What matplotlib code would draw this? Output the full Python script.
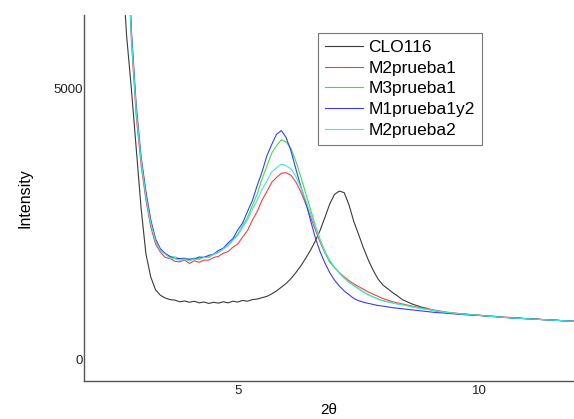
import matplotlib
matplotlib.use("Agg")
import matplotlib.pyplot as plt
import numpy as np

# 2theta grid (deg), 0.1 step
two_theta = np.round(np.arange(2.6, 12.0001, 0.1), 2)

clo116 = [
    7500, 6000, 5000, 3900, 2800, 1950, 1520, 1280, 1180, 1130,
    1100, 1090, 1060, 1075, 1050, 1070, 1040, 1055, 1030, 1050,
    1035, 1060, 1040, 1070, 1055, 1085, 1070, 1100, 1110, 1135,
    1160, 1205, 1260, 1330, 1400, 1490, 1600, 1720, 1860, 2010,
    2180, 2380, 2620, 2870, 3050, 3110, 3080, 2850, 2540, 2300,
    2050, 1830, 1640, 1480, 1370, 1300, 1230, 1170, 1100, 1060,
    1020, 990, 960, 940, 910, 890, 870, 860, 850, 840,
    830, 830, 820, 810, 810, 800, 790, 790, 780, 770,
    770, 760, 760, 750, 750, 740, 740, 730, 730, 720,
    720, 710, 710, 700, 700,
]

m2prueba1 = [
    12000, 8000, 5900, 4500, 3600, 2950, 2450, 2130, 1980, 1880,
    1860, 1810, 1800, 1830, 1770, 1820, 1790, 1830, 1830, 1880,
    1900, 1960, 1990, 2070, 2130, 2260, 2380, 2570, 2730, 2940,
    3100, 3270, 3360, 3440, 3450, 3400, 3280, 3100, 2880, 2640,
    2400, 2170, 1970, 1810, 1690, 1600, 1520, 1450, 1390, 1340,
    1290, 1240, 1200, 1160, 1120, 1090, 1060, 1040, 1020, 1000,
    980, 960, 945, 930, 915, 900, 885, 870, 860, 850,
    840, 835, 825, 815, 810, 800, 795, 790, 780, 775,
    770, 760, 760, 750, 745, 740, 735, 730, 725, 720,
    715, 710, 705, 700, 695,
]

m3prueba1 = [
    12000, 8000, 6000, 4600, 3700, 3050, 2550, 2200, 2030, 1960,
    1890, 1890, 1860, 1870, 1840, 1870, 1860, 1890, 1890, 1940,
    1970, 2050, 2100, 2210, 2310, 2470, 2620, 2840, 3050, 3330,
    3570, 3810, 3950, 4060, 4020, 3900, 3660, 3380, 3080, 2780,
    2480, 2210, 1980, 1790, 1700, 1590, 1500, 1420, 1360, 1300,
    1240, 1190, 1150, 1110, 1080, 1060, 1040, 1020, 1010, 990,
    970, 950, 940, 920, 910, 890, 875, 865, 855, 845,
    840, 830, 820, 815, 810, 800, 795, 785, 780, 770,
    765, 760, 755, 750, 745, 740, 735, 730, 725, 720,
    715, 710, 705, 700, 695,
]

m1prueba1y2 = [
    12000, 8200, 6100, 4700, 3750, 3100, 2580, 2220, 2040, 1950,
    1900, 1860, 1860, 1850, 1850, 1850, 1890, 1880, 1920, 1940,
    2010, 2050, 2150, 2230, 2390, 2520, 2730, 2930, 3210, 3460,
    3760, 3970, 4160, 4230, 4100, 3850, 3520, 3200, 2920, 2580,
    2250, 1990, 1780, 1600, 1460, 1350, 1260, 1190, 1120, 1080,
    1050, 1030, 1010, 990, 980, 965, 950, 940, 930, 920,
    910, 900, 890, 880, 870, 860, 855, 850, 840, 835,
    830, 820, 815, 810, 805, 800, 790, 785, 780, 770,
    765, 760, 755, 750, 745, 740, 735, 730, 725, 720,
    715, 710, 705, 700, 695,
]

m2prueba2 = [
    12000, 8000, 6000, 4600, 3680, 3020, 2520, 2180, 2010, 1940,
    1870, 1860, 1830, 1840, 1820, 1850, 1840, 1880, 1880, 1940,
    1970, 2040, 2100, 2200, 2290, 2440, 2570, 2770, 2940, 3140,
    3290, 3460, 3540, 3610, 3580, 3520, 3380, 3180, 2950, 2700,
    2450, 2210, 2000, 1830, 1700, 1590, 1500, 1420, 1360, 1300,
    1240, 1190, 1150, 1110, 1080, 1060, 1040, 1020, 1000, 985,
    965, 950, 935, 920, 905, 890, 875, 865, 855, 845,
    835, 830, 820, 815, 805, 800, 790, 785, 780, 770,
    765, 760, 755, 750, 745, 740, 735, 730, 725, 720,
    715, 710, 705, 700, 695,
]

series = [
    ("CLO116", clo116, "#3a3a3a"),
    ("M2prueba1", m2prueba1, "#ff3b3b"),
    ("M3prueba1", m3prueba1, "#3fe03f"),
    ("M1prueba1y2", m1prueba1y2, "#3a3aff"),
    ("M2prueba2", m2prueba2, "#3fe6e6"),
]

plt.rcParams["font.family"] = ["Liberation Sans", "DejaVu Sans"]

fig = plt.figure(figsize=(5.74, 4.19), dpi=100)
ax = fig.add_axes([0.1463, 0.0907, 0.8537, 0.8735])

for name, vals, col in series:
    ax.plot(two_theta, vals, color=col, lw=0.8, label=name)

ax.set_xlim(1.82, 11.95)
ax.set_ylim(-407, 6370)
ax.set_xticks([5, 10])
ax.set_yticks([0, 5000])
ax.tick_params(axis="both", length=0, labelsize=9.5, colors="#222222")
ax.tick_params(axis="y", pad=1)
ax.tick_params(axis="x", pad=3)
for s in ("top", "right"):
    ax.spines[s].set_visible(False)
for s in ("left", "bottom"):
    ax.spines[s].set_color("#555555")
    ax.spines[s].set_linewidth(1.0)

ax.set_ylabel("Intensity", fontsize=11.5, labelpad=15)
ax.set_xlabel("2θ", fontsize=11, labelpad=4)

leg = ax.legend(loc="upper right", bbox_to_anchor=(0.812, 0.951), fontsize=12.5,
                frameon=True, fancybox=False, handlelength=2.2, handletextpad=0.3,
                borderpad=0.4, labelspacing=0.32, borderaxespad=0)
leg.get_frame().set_edgecolor("#555555")
leg.get_frame().set_linewidth(0.8)

fig.savefig("out.png", dpi=100)
